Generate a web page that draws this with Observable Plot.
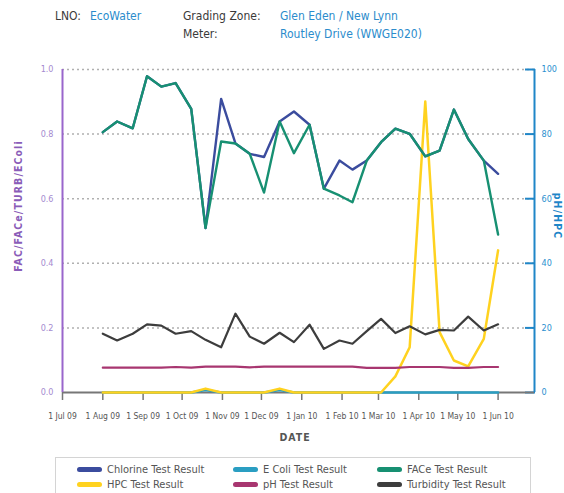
<!DOCTYPE html>
<html>
<head>
<meta charset="utf-8">
<script src="https://cdn.jsdelivr.net/npm/d3@7"></script>
<script src="https://cdn.jsdelivr.net/npm/@observablehq/plot@0.6"></script>
<style>
  html, body { margin: 0; padding: 0; background: #fff; }
  #page { position: relative; width: 564px; height: 493px; overflow: hidden;
          font-family: "DejaVu Sans Condensed", "Liberation Sans", sans-serif; }
  .abs { position: absolute; white-space: nowrap; }
  .hd { font-size: 12px; color: #3a3a3a; line-height: 16px; }
  .hb { color: #2b8ccc; }
  #chart { position: absolute; left: 0; top: 50px; }
  .ytitle { font-weight: bold; font-size: 10.5px; letter-spacing: 1.1px; }
  #legend { position: absolute; left: 55px; top: 457px; width: 476px; height: 44px;
            border: 1.5px solid #d4d4d4; box-sizing: border-box; }
  .li { position: absolute; font-size: 11px; color: #555; line-height: 14px; }
  .sw { display: inline-block; width: 25px; height: 5px; border-radius: 3px;
        vertical-align: middle; margin-right: 5px; position: relative; top: -1px; }
</style>
</head>
<body>
<div id="page">
  <div class="abs hd" style="left:55px;top:8px">LNO:</div>
  <div class="abs hd hb" style="left:90px;top:8px">EcoWater</div>
  <div class="abs hd" style="left:183px;top:8px">Grading Zone:</div>
  <div class="abs hd hb" style="left:280px;top:8px">Glen Eden / New Lynn</div>
  <div class="abs hd" style="left:183px;top:26px">Meter:</div>
  <div class="abs hd hb" style="left:280px;top:26px">Routley Drive (WWGE020)</div>
  <div id="chart"></div>
  <div class="abs ytitle" id="ltitle" style="color:#8a5cb8">FAC/FACe/TURB/EColi</div>
  <div class="abs ytitle" id="rtitle" style="color:#1f86c8">pH/HPC</div>
  <div class="abs" style="left:0;width:590px;top:431px;text-align:center;font-weight:bold;font-size:10.5px;letter-spacing:1px;color:#555">DATE</div>
  <div id="legend"></div>
</div>
<script>
// ---- data ----
const dates = ["2009-08-01","2009-08-12","2009-08-24","2009-09-04","2009-09-15","2009-09-26",
  "2009-10-08","2009-10-19","2009-10-31","2009-11-11","2009-11-22","2009-12-03","2009-12-15",
  "2009-12-26","2010-01-07","2010-01-18","2010-01-30","2010-02-09","2010-02-20","2010-03-03",
  "2010-03-14","2010-03-25","2010-04-06","2010-04-17","2010-04-28","2010-05-09","2010-05-21","2010-06-01"];
const chlorine = [0.806,0.839,0.818,0.979,0.947,0.958,0.878,0.509,0.909,0.771,0.739,0.729,0.839,0.870,
  0.829,0.631,0.718,0.690,0.718,0.775,0.817,0.801,0.731,0.749,0.876,0.785,0.718,0.677];
const ecoli = [0,0,0,0,0,0,0,0.008,0,0,0,0,0.008,0,0,0,0,0,0,0,0,0,0,0,0,0,0,0];
const face = [0.806,0.839,0.818,0.979,0.947,0.958,0.878,0.509,0.777,0.771,0.739,0.619,0.839,0.741,
  0.829,0.631,0.610,0.589,0.718,0.775,0.817,0.801,0.731,0.749,0.876,0.785,0.718,0.489];
const hpc = [0,0,0,0,0,0,0,1.2,0,0,0,0,1.2,0,0,0,0,0,0,0,5.0,14.0,90.1,18.7,9.9,8.1,16.6,44.0];
const ph = [7.7,7.7,7.7,7.7,7.7,7.9,7.7,8.0,8.0,8.0,7.8,8.0,8.0,8.0,8.0,8.0,8.0,8.0,7.6,7.6,7.6,
  7.9,7.9,7.9,7.6,7.6,7.9,7.9];
const turbidity = [0.182,0.161,0.182,0.211,0.207,0.182,0.190,0.163,0.140,0.244,0.173,0.151,0.185,0.156,
  0.210,0.135,0.161,0.151,0.190,0.228,0.184,0.205,0.180,0.194,0.192,0.235,0.192,0.211];

const leftTicks = [0, 0.2, 0.4, 0.6, 0.8, 1.0];
const rightTicks = [0, 20, 40, 60, 80, 100];
const xTickDates = ["2009-07-01","2009-08-01","2009-09-01","2009-10-01","2009-11-01","2009-12-01",
  "2010-01-01","2010-02-01","2010-03-01","2010-04-01","2010-05-01","2010-06-01"];
const xDomain = ["2009-07-01", "2010-06-29"];

const seriesNames = ["Chlorine Test Result","E Coli Test Result","FACe Test Result",
  "HPC Test Result","pH Test Result","Turbidity Test Result"];
const seriesColors = ["#3b4c9e","#2a9ec2","#179072","#ffd21f","#a83670","#3d3d3d"];

// ---- build ----
const parse = d3.utcParse("%Y-%m-%d");
const rows = (vals, scaleMax) => dates.map((d, i) => ({date: parse(d), v: vals[i] / scaleMax}));
const x0 = parse(xDomain[0]), x1 = parse(xDomain[1]);

const chart = Plot.plot({
  width: 564, height: 400,
  marginTop: 19, marginBottom: 58, marginLeft: 62, marginRight: 30,
  style: {fontFamily: '"DejaVu Sans Condensed", "Liberation Sans", sans-serif', fontSize: "9px"},
  x: {type: "utc", domain: [x0, x1]},
  y: {domain: [0, 1]},
  marks: [
    Plot.gridY(leftTicks.filter(d => d > 0), {stroke: "#b0b0b0", strokeOpacity: 1, strokeWidth: 1.5, strokeDasharray: "2,3"}),
    Plot.axisY(leftTicks, {anchor: "left", tickSize: 0, tickPadding: 9, tickFormat: d3.format(".1f"),
      fill: "#a58ad0", fontSize: 9, label: null}),
    Plot.axisY(rightTicks.map(v => v / 100), {anchor: "right", tickSize: 0, tickPadding: 7,
      tickFormat: d => String(Math.round(d * 100)), fill: "#2a8fcf", fontSize: 9, label: null}),
    Plot.axisY(rightTicks.map(v => v / 100), {anchor: "right", tickSize: 10, dx: -10, tickFormat: () => "",
      stroke: "#1f86c8", strokeWidth: 2, label: null}),
    Plot.axisX(xTickDates.map(parse), {anchor: "bottom", tickSize: 8, tickPadding: 12,
      tickFormat: d3.utcFormat("%-d %b %y"), stroke: "#777", strokeWidth: 1.5, fill: "#555", fontSize: 8.5, label: null}),
    Plot.ruleY([0], {stroke: "#777", strokeWidth: 2}),
    Plot.ruleX([x0], {stroke: "#9966cc", strokeWidth: 2}),
    Plot.ruleX([x1], {stroke: "#1f86c8", strokeWidth: 2}),
    Plot.lineY(rows(ecoli, 1), {x: "date", y: "v", stroke: seriesColors[1], strokeWidth: 2.5}),
    Plot.lineY(rows(hpc, 100), {x: "date", y: "v", stroke: seriesColors[3], strokeWidth: 2.5}),
    Plot.lineY(rows(ph, 100), {x: "date", y: "v", stroke: seriesColors[4], strokeWidth: 2.2}),
    Plot.lineY(rows(turbidity, 1), {x: "date", y: "v", stroke: seriesColors[5], strokeWidth: 2.2}),
    Plot.lineY(rows(chlorine, 1), {x: "date", y: "v", stroke: seriesColors[0], strokeWidth: 2.4}),
    Plot.lineY(rows(face, 1), {x: "date", y: "v", stroke: seriesColors[2], strokeWidth: 2.4})
  ]
});
document.getElementById("chart").appendChild(chart);

// axis titles, rotated
function placeRotated(el, cx, cy, deg) {
  const w = el.offsetWidth, h = el.offsetHeight;
  el.style.left = (cx - w / 2) + "px";
  el.style.top = (cy - h / 2) + "px";
  el.style.transform = `rotate(${deg}deg)`;
}
placeRotated(document.getElementById("ltitle"), 18, 206, -90);
placeRotated(document.getElementById("rtitle"), 558, 216, 90);

// legend
const legend = document.getElementById("legend");
const colX = [21, 177, 321];
seriesNames.forEach((name, i) => {
  const col = i % 3, row = Math.floor(i / 3);
  const div = document.createElement("div");
  div.className = "li";
  div.style.left = colX[col] + "px";
  div.style.top = (5 + row * 15) + "px";
  div.innerHTML = `<span class="sw" style="background:${seriesColors[i]}"></span>${name}`;
  legend.appendChild(div);
});
</script>
</body>
</html>
